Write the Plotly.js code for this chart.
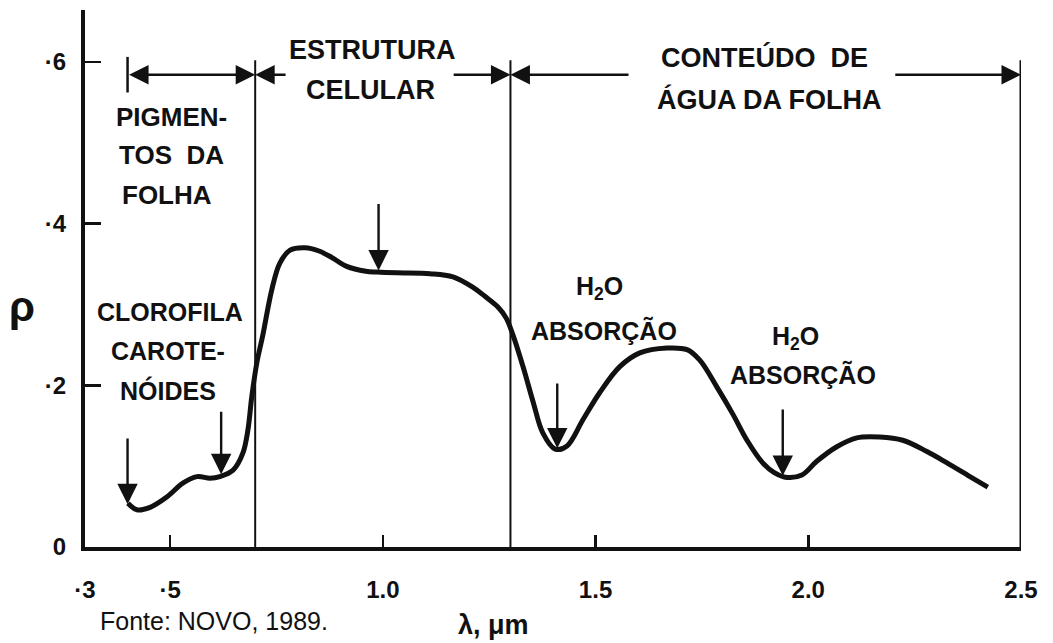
<!DOCTYPE html>
<html>
<head>
<meta charset="utf-8">
<script src="https://cdn.plot.ly/plotly-3.0.1.min.js"></script>
<style>html,body{margin:0;padding:0;background:#fff;}#chart{width:1053px;height:643px;}</style>
</head>
<body>
<div id="chart"></div>
<script>
// Spectral reflectance curve of a green leaf
const wavelength = [0.401,0.422,0.453,0.493,0.530,0.563,0.594,0.617,0.648,0.671,0.683,0.692,0.704,0.718,0.739,0.758,0.782,0.817,0.850,0.880,0.915,0.960,0.986,1.033,1.111,1.165,1.212,1.240,1.270,1.290,1.306,1.329,1.353,1.376,1.405,1.433,1.470,1.510,1.557,1.604,1.668,1.715,1.745,1.785,1.823,1.856,1.893,1.920,1.950,1.985,2.020,2.067,2.114,2.168,2.222,2.279,2.326,2.380,2.422];
const reflectance = [0.054,0.046,0.049,0.062,0.079,0.087,0.085,0.087,0.095,0.116,0.145,0.186,0.228,0.262,0.318,0.351,0.367,0.370,0.366,0.358,0.347,0.341,0.340,0.339,0.338,0.334,0.321,0.310,0.297,0.283,0.262,0.224,0.180,0.141,0.121,0.125,0.157,0.191,0.223,0.240,0.246,0.244,0.231,0.198,0.164,0.132,0.104,0.092,0.086,0.089,0.106,0.124,0.135,0.136,0.132,0.118,0.104,0.087,0.074];

const xTickVals = [0.3, 0.5, 1.0, 1.5, 2.0, 2.5];
const xTickText = ['·3', '·5', '1.0', '1.5', '2.0', '2.5'];
const yTickVals = [0, 0.2, 0.4, 0.6];
const yTickText = ['0', '·2', '·4', '·6'];

// Region boundaries (μm) and labels
const regionBounds = [0.4, 0.7, 1.3, 2.5];
const regionArrowY = 0.584;
const regionTopY = 0.602;

// Absorption-feature arrows
const arrowX = [0.40, 0.62, 0.99, 1.41, 1.94];
const arrowTipY = [0.053, 0.090, 0.342, 0.122, 0.088];
const arrowTailY = [0.136, 0.169, 0.426, 0.204, 0.172];

const FAM = 'Liberation Sans, Arial, sans-serif';
const BOLD = {family: FAM, size: 26, color: '#111', weight: 'bold'};
function lbl(text, x, y, size) {
  return {text: text, x: x, y: y, xref: 'x', yref: 'y', showarrow: false,
          xanchor: 'center', yanchor: 'middle',
          font: Object.assign({}, BOLD, {size: size || 26})};
}
function arr(xHead, xTail, y) {
  return {x: xHead, y: y, ax: xTail, ay: y, xref: 'x', yref: 'y', axref: 'x', ayref: 'y',
          text: '', showarrow: true, arrowhead: 2, arrowsize: 1.5, arrowwidth: 2.6,
          arrowcolor: '#111', standoff: 0, startstandoff: 0};
}

const annotations = [];
// Region 1 arrow (double headed, continuous)
annotations.push(Object.assign(arr(regionBounds[1], regionBounds[0], regionArrowY), {arrowside: 'end+start', startarrowhead: 2, startarrowsize: 1.5}));
// Region 2 (broken by text)
annotations.push(arr(regionBounds[1], 0.775, regionArrowY));
annotations.push(arr(regionBounds[2], 1.163, regionArrowY));
// Region 3
annotations.push(arr(regionBounds[2], 1.581, regionArrowY));
annotations.push(arr(regionBounds[3], 2.201, regionArrowY));

// Region labels
annotations.push(lbl('PIGMEN-', 0.504, 0.532));
annotations.push(lbl('TOS  DA', 0.504, 0.485));
annotations.push(lbl('FOLHA', 0.493, 0.435));
annotations.push(lbl('ESTRUTURA', 0.975, 0.615, 27));
annotations.push(lbl('CELULAR', 0.970, 0.565, 27));
annotations.push(lbl('CONTEÚDO  DE', 1.898, 0.605, 27));
annotations.push(lbl('ÁGUA DA FOLHA', 1.908, 0.553, 27));

// Feature labels
annotations.push(lbl('CLOROFILA', 0.500, 0.290, 25));
annotations.push(lbl('CAROTE-', 0.495, 0.242, 25));
annotations.push(lbl('NÓIDES', 0.495, 0.194, 25));
annotations.push(lbl('H<sub>2</sub>O', 1.510, 0.320, 25));
annotations.push(lbl('ABSORÇÃO', 1.520, 0.268, 25));
annotations.push(lbl('H<sub>2</sub>O', 1.969, 0.259, 25));
annotations.push(lbl('ABSORÇÃO', 1.987, 0.213, 25));

// Downward arrows
for (let i = 0; i < arrowX.length; i++) {
  annotations.push({x: arrowX[i], y: arrowTipY[i], ax: arrowX[i], ay: arrowTailY[i],
    xref: 'x', yref: 'y', axref: 'x', ayref: 'y', text: '', showarrow: true,
    arrowhead: 2, arrowsize: 1.7, arrowwidth: 2.4, arrowcolor: '#111', standoff: 0});
}

// Axis titles and source
annotations.push({text: 'ρ', xref: 'paper', yref: 'paper', x: -0.067, y: 0.447, showarrow: false,
  xanchor: 'center', yanchor: 'middle',
  font: {family: FAM, size: 42, color: '#111', weight: 'bold'}});
annotations.push({text: 'λ, μm', xref: 'paper', yref: 'paper', x: 0.436, y: -0.145, showarrow: false,
  xanchor: 'center', yanchor: 'middle',
  font: {family: FAM, size: 27, color: '#111', weight: 'bold'}});
annotations.push({text: 'Fonte: NOVO, 1989.', xref: 'paper', yref: 'paper', x: 0.0139, y: -0.138,
  xanchor: 'left', yanchor: 'middle', showarrow: false,
  font: {family: FAM, size: 25, color: '#111'}});

// Shapes: boundary verticals and start bar
const shapes = [];
for (let i = 1; i < regionBounds.length; i++) {
  shapes.push({type: 'line', xref: 'x', yref: 'y', x0: regionBounds[i], x1: regionBounds[i],
    y0: 0, y1: regionTopY, line: {color: '#111', width: i === 3 ? 3 : 2}});
}
shapes.push({type: 'line', xref: 'x', yref: 'y', x0: regionBounds[0], x1: regionBounds[0],
  y0: regionArrowY - 0.022, y1: regionArrowY + 0.022, line: {color: '#111', width: 2.5}});

const trace = {x: wavelength, y: reflectance, type: 'scatter', mode: 'lines',
  line: {color: '#111', width: 5, shape: 'spline', smoothing: 1}, hoverinfo: 'skip'};

const tickFont = {family: FAM, size: 24, color: '#111', weight: 'bold'};
const layout = {
  width: 1053, height: 643,
  margin: {l: 85, r: 32, t: 10, b: 96, pad: 0},
  paper_bgcolor: '#fff', plot_bgcolor: '#fff',
  showlegend: false,
  xaxis: {range: [0.3, 2.5], showgrid: false, zeroline: false, showline: true, linewidth: 4,
    linecolor: '#111', ticks: 'inside', ticklen: 12, tickwidth: 2.5, tickcolor: '#111',
    tickmode: 'array', tickvals: xTickVals, ticktext: xTickText, tickfont: tickFont, ticklabelstandoff: 18},
  yaxis: {range: [0, 0.664], showgrid: false, zeroline: false, showline: true, linewidth: 4,
    linecolor: '#111', ticks: 'inside', ticklen: 16, tickwidth: 2.5, tickcolor: '#111',
    tickmode: 'array', tickvals: yTickVals, ticktext: yTickText, tickfont: tickFont, ticklabelstandoff: 10},
  annotations: annotations,
  shapes: shapes
};
Plotly.newPlot('chart', [trace], layout, {displayModeBar: false, staticPlot: true});
</script>
</body>
</html>
